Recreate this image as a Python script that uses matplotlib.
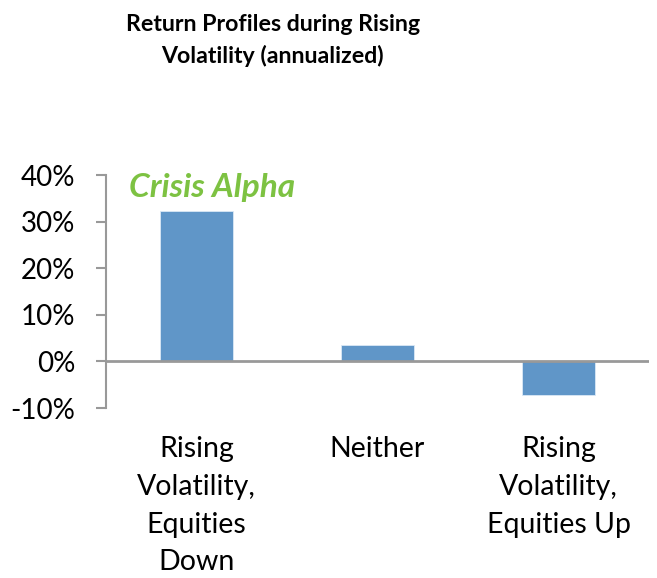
import matplotlib.pyplot as plt
from matplotlib.ticker import FuncFormatter

categories = ['Rising\nVolatility,\nEquities\nDown', 'Neither', 'Rising\nVolatility,\nEquities Up']
returns = [32.2, 3.6, -7.1]
yticks = [-10, 0, 10, 20, 30, 40]

plt.rcParams['font.family'] = ['Lato', 'DejaVu Sans']

fig = plt.figure(figsize=(6.57, 5.78), dpi=100)
ax = fig.add_axes([0.161, 0.294, 0.827, 0.403])

x = range(len(categories))
ax.bar(x, returns, width=0.4, color='#6096c8', edgecolor='#dbe8f5', linewidth=0.6, zorder=2)
ax.axhline(0, color='#999999', linewidth=2, zorder=3)

ax.set_xlim(-0.5, 2.5)
ax.set_ylim(-10, 40)
ax.set_yticks(yticks)
ax.yaxis.set_major_formatter(FuncFormatter(lambda v, p: '%d%%' % v))
ax.tick_params(axis='y', direction='out', length=7, width=1.5, color='#999999', labelsize=20, pad=15)
ax.set_xticks([])
for s in ['top', 'right', 'bottom']:
    ax.spines[s].set_visible(False)
ax.spines['left'].set_color('#999999')
ax.spines['left'].set_linewidth(1.5)

for i, c in enumerate(categories):
    ax.text(i, -16.0, c, ha='center', va='top', fontsize=20.5, linespacing=1.56)

ax.text(-0.37, 37.3, 'Crisis Alpha', color='#7dc242', fontsize=24,
        fontweight='bold', fontstyle='italic', ha='left', va='center')

fig.text(0.415, 0.975, 'Return Profiles during Rising\nVolatility (annualized)',
         ha='center', va='top', fontsize=16.7, fontweight='bold', linespacing=1.5)

fig.savefig('out.png', dpi=100)
